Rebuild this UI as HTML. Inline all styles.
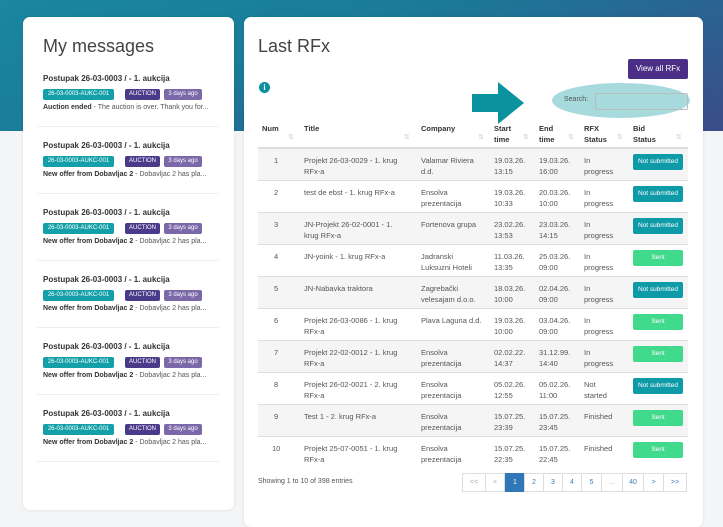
<!DOCTYPE html>
<html><head><meta charset="utf-8"><style>
*{margin:0;padding:0;box-sizing:border-box}
body{width:723px;height:521px;overflow:hidden;position:relative;font-family:"Liberation Sans",sans-serif;background:#f4f5f7;color:#333}
.band{position:absolute;left:0;top:0;width:723px;height:131px;background:linear-gradient(160deg,#1a86a0 0%,#1a7b98 40%,#2e5d90 75%,#3b4c88 100%)}
.card{position:absolute;background:#fff;border-radius:7px;box-shadow:0 0 3px rgba(0,0,0,.1)}
.a{position:absolute;white-space:nowrap}
.h1{font-size:18px;color:#444}
.mt{font-size:8px;font-weight:bold;color:#333}
.tag{position:absolute;height:11px;font-size:6px;color:#fff;line-height:11px;text-align:center;border-radius:2px}
.msg{font-size:7px;color:#555}
.sep{position:absolute;left:37px;width:182px;height:1px;background:#eee}
.row{position:absolute;left:258px;width:430px;height:32px;border-top:1px solid #ddd}
.c{position:absolute;font-size:7.5px;color:#555;line-height:11px;top:6px}
.th{position:absolute;font-size:7.5px;font-weight:bold;color:#333;line-height:11px}
.ar{position:absolute;font-size:7px;color:#ccc}
.b{position:absolute;left:375px;top:5px;width:50px;height:16px;border-radius:2px;font-size:6.5px;color:#fff;text-align:center;line-height:16px}
.ns{background:#0e9aa7}.s{background:#41d98c}
.pg{position:absolute;top:473px;height:19px;border:1px solid #ddd;font-size:7px;color:#3a7fc0;line-height:17px;text-align:center;background:#fff}
</style></head><body>
<div class="band"></div>
<div class="card" style="left:23px;top:17px;width:211px;height:493px"></div>
<div class="card" style="left:244px;top:17px;width:459px;height:510px"></div>
<div class="a h1" style="left:43px;top:36px">My messages</div>

<div class="a mt" style="left:43px;top:74px">Postupak 26-03-0003 / - 1. aukcija</div>
<div class="tag" style="left:43px;top:89px;width:71px;background:#14a0a8">26-03-0003-AUKC-001</div>
<div class="tag" style="left:125px;top:89px;width:35px;background:#4a3a8a">AUCTION</div>
<div class="tag" style="left:164px;top:89px;width:38px;background:#7a68a8">3 days ago</div>
<div class="a msg" style="left:43px;top:104px"><b style="color:#333">Auction ended</b> - The auction is over. Thank you for...</div>
<div class="sep" style="top:126px"></div>

<div class="a mt" style="left:43px;top:141px">Postupak 26-03-0003 / - 1. aukcija</div>
<div class="tag" style="left:43px;top:156px;width:71px;background:#14a0a8">26-03-0003-AUKC-001</div>
<div class="tag" style="left:125px;top:156px;width:35px;background:#4a3a8a">AUCTION</div>
<div class="tag" style="left:164px;top:156px;width:38px;background:#7a68a8">3 days ago</div>
<div class="a msg" style="left:43px;top:171px"><b style="color:#333">New offer from Dobavljac 2</b> - Dobavljac 2 has pla...</div>
<div class="sep" style="top:193px"></div>

<div class="a mt" style="left:43px;top:208px">Postupak 26-03-0003 / - 1. aukcija</div>
<div class="tag" style="left:43px;top:223px;width:71px;background:#14a0a8">26-03-0003-AUKC-001</div>
<div class="tag" style="left:125px;top:223px;width:35px;background:#4a3a8a">AUCTION</div>
<div class="tag" style="left:164px;top:223px;width:38px;background:#7a68a8">3 days ago</div>
<div class="a msg" style="left:43px;top:238px"><b style="color:#333">New offer from Dobavljac 2</b> - Dobavljac 2 has pla...</div>
<div class="sep" style="top:260px"></div>

<div class="a mt" style="left:43px;top:275px">Postupak 26-03-0003 / - 1. aukcija</div>
<div class="tag" style="left:43px;top:290px;width:71px;background:#14a0a8">26-03-0003-AUKC-001</div>
<div class="tag" style="left:125px;top:290px;width:35px;background:#4a3a8a">AUCTION</div>
<div class="tag" style="left:164px;top:290px;width:38px;background:#7a68a8">3 days ago</div>
<div class="a msg" style="left:43px;top:305px"><b style="color:#333">New offer from Dobavljac 2</b> - Dobavljac 2 has pla...</div>
<div class="sep" style="top:327px"></div>

<div class="a mt" style="left:43px;top:342px">Postupak 26-03-0003 / - 1. aukcija</div>
<div class="tag" style="left:43px;top:357px;width:71px;background:#14a0a8">26-03-0003-AUKC-001</div>
<div class="tag" style="left:125px;top:357px;width:35px;background:#4a3a8a">AUCTION</div>
<div class="tag" style="left:164px;top:357px;width:38px;background:#7a68a8">3 days ago</div>
<div class="a msg" style="left:43px;top:372px"><b style="color:#333">New offer from Dobavljac 2</b> - Dobavljac 2 has pla...</div>
<div class="sep" style="top:394px"></div>

<div class="a mt" style="left:43px;top:409px">Postupak 26-03-0003 / - 1. aukcija</div>
<div class="tag" style="left:43px;top:424px;width:71px;background:#14a0a8">26-03-0003-AUKC-001</div>
<div class="tag" style="left:125px;top:424px;width:35px;background:#4a3a8a">AUCTION</div>
<div class="tag" style="left:164px;top:424px;width:38px;background:#7a68a8">3 days ago</div>
<div class="a msg" style="left:43px;top:439px"><b style="color:#333">New offer from Dobavljac 2</b> - Dobavljac 2 has pla...</div>
<div class="sep" style="top:461px"></div>

<div class="a h1" style="left:258px;top:36px">Last RFx</div>
<div class="a" style="left:628px;top:59px;width:60px;height:20px;background:#4b2f86;border-radius:2px;color:#fff;font-size:8px;line-height:20px;text-align:center">View all RFx</div>
<div class="a" style="left:259px;top:82px;width:11px;height:11px;border-radius:50%;background:#0e8f9e;color:#fff;font-size:8px;font-weight:bold;line-height:11px;text-align:center">i</div>
<svg class="a" style="left:472px;top:82px" width="52" height="42"><polygon points="0,12 26,12 26,0 52,21 26,42 26,30 0,30" fill="#0b929f"/></svg>
<div class="a" style="left:552px;top:83px;width:138px;height:35px;border-radius:50%;background:#a6dadd"></div>
<div class="a" style="left:564px;top:96px;font-size:7px;color:#555">Search:</div>
<div class="a" style="left:595px;top:93px;width:93px;height:17px;border:1px solid #bbb;border-radius:2px"></div>

<div class="th" style="left:262px;top:123px">Num</div><div class="ar" style="left:288px;top:133px">⇅</div>
<div class="th" style="left:304px;top:123px">Title</div><div class="ar" style="left:404px;top:133px">⇅</div>
<div class="th" style="left:421px;top:123px">Company</div><div class="ar" style="left:478px;top:133px">⇅</div>
<div class="th" style="left:494px;top:123px">Start<br>time</div><div class="ar" style="left:523px;top:133px">⇅</div>
<div class="th" style="left:539px;top:123px">End<br>time</div><div class="ar" style="left:568px;top:133px">⇅</div>
<div class="th" style="left:584px;top:123px">RFX<br>Status</div><div class="ar" style="left:617px;top:133px">⇅</div>
<div class="th" style="left:633px;top:123px">Bid<br>Status</div><div class="ar" style="left:676px;top:133px">⇅</div>
<div class="a" style="left:258px;top:147px;width:430px;height:2px;background:#ddd"></div>

<div class="row" style="top:148px;background:#f5f5f5"><div class="c" style="left:16px">1</div><div class="c" style="left:46px">Projekt 26-03-0029 - 1. krug<br>RFx-a</div><div class="c" style="left:163px">Valamar Riviera<br>d.d.</div><div class="c" style="left:236px">19.03.26.<br>13:15</div><div class="c" style="left:281px">19.03.26.<br>16:00</div><div class="c" style="left:326px">In<br>progress</div><div class="b ns">Not submitted</div></div>
<div class="row" style="top:180px"><div class="c" style="left:16px">2</div><div class="c" style="left:46px">test de ebst - 1. krug RFx-a</div><div class="c" style="left:163px">Ensolva<br>prezentacija</div><div class="c" style="left:236px">19.03.26.<br>10:33</div><div class="c" style="left:281px">20.03.26.<br>10:00</div><div class="c" style="left:326px">In<br>progress</div><div class="b ns">Not submitted</div></div>
<div class="row" style="top:212px;background:#f5f5f5"><div class="c" style="left:16px">3</div><div class="c" style="left:46px">JN-Projekt 26-02-0001 - 1.<br>krug RFx-a</div><div class="c" style="left:163px">Fortenova grupa</div><div class="c" style="left:236px">23.02.26.<br>13:53</div><div class="c" style="left:281px">23.03.26.<br>14:15</div><div class="c" style="left:326px">In<br>progress</div><div class="b ns">Not submitted</div></div>
<div class="row" style="top:244px"><div class="c" style="left:16px">4</div><div class="c" style="left:46px">JN-yoink - 1. krug RFx-a</div><div class="c" style="left:163px">Jadranski<br>Luksuzni Hoteli</div><div class="c" style="left:236px">11.03.26.<br>13:35</div><div class="c" style="left:281px">25.03.26.<br>09:00</div><div class="c" style="left:326px">In<br>progress</div><div class="b s">Sent</div></div>
<div class="row" style="top:276px;background:#f5f5f5"><div class="c" style="left:16px">5</div><div class="c" style="left:46px">JN-Nabavka traktora</div><div class="c" style="left:163px">Zagrebački<br>velesajam d.o.o.</div><div class="c" style="left:236px">18.03.26.<br>10:00</div><div class="c" style="left:281px">02.04.26.<br>09:00</div><div class="c" style="left:326px">In<br>progress</div><div class="b ns">Not submitted</div></div>
<div class="row" style="top:308px"><div class="c" style="left:16px">6</div><div class="c" style="left:46px">Projekt 26-03-0086 - 1. krug<br>RFx-a</div><div class="c" style="left:163px">Plava Laguna d.d.</div><div class="c" style="left:236px">19.03.26.<br>10:00</div><div class="c" style="left:281px">03.04.26.<br>09:00</div><div class="c" style="left:326px">In<br>progress</div><div class="b s">Sent</div></div>
<div class="row" style="top:340px;background:#f5f5f5"><div class="c" style="left:16px">7</div><div class="c" style="left:46px">Projekt 22-02-0012 - 1. krug<br>RFx-a</div><div class="c" style="left:163px">Ensolva<br>prezentacija</div><div class="c" style="left:236px">02.02.22.<br>14:37</div><div class="c" style="left:281px">31.12.99.<br>14:40</div><div class="c" style="left:326px">In<br>progress</div><div class="b s">Sent</div></div>
<div class="row" style="top:372px"><div class="c" style="left:16px">8</div><div class="c" style="left:46px">Projekt 26-02-0021 - 2. krug<br>RFx-a</div><div class="c" style="left:163px">Ensolva<br>prezentacija</div><div class="c" style="left:236px">05.02.26.<br>12:55</div><div class="c" style="left:281px">05.02.26.<br>11:00</div><div class="c" style="left:326px">Not<br>started</div><div class="b ns">Not submitted</div></div>
<div class="row" style="top:404px;background:#f5f5f5"><div class="c" style="left:16px">9</div><div class="c" style="left:46px">Test 1 - 2. krug RFx-a</div><div class="c" style="left:163px">Ensolva<br>prezentacija</div><div class="c" style="left:236px">15.07.25.<br>23:39</div><div class="c" style="left:281px">15.07.25.<br>23:45</div><div class="c" style="left:326px">Finished</div><div class="b s">Sent</div></div>
<div class="row" style="top:436px"><div class="c" style="left:14px">10</div><div class="c" style="left:46px">Projekt 25-07-0051 - 1. krug<br>RFx-a</div><div class="c" style="left:163px">Ensolva<br>prezentacija</div><div class="c" style="left:236px">15.07.25.<br>22:35</div><div class="c" style="left:281px">15.07.25.<br>22:45</div><div class="c" style="left:326px">Finished</div><div class="b s">Sent</div></div>

<div class="a" style="left:258px;top:478px;font-size:7px;color:#555">Showing 1 to 10 of 398 entries</div>
<div class="pg" style="left:462px;width:24px;color:#aaa">&lt;&lt;</div>
<div class="pg" style="left:485px;width:20px;color:#aaa">&lt;</div>
<div class="pg" style="left:505px;width:20px;background:#2f77b6;color:#fff;border-color:#2f77b6">1</div>
<div class="pg" style="left:524px;width:20px">2</div>
<div class="pg" style="left:543px;width:20px">3</div>
<div class="pg" style="left:562px;width:20px">4</div>
<div class="pg" style="left:581px;width:21px">5</div>
<div class="pg" style="left:601px;width:22px;color:#aaa">...</div>
<div class="pg" style="left:622px;width:22px">40</div>
<div class="pg" style="left:643px;width:21px">&gt;</div>
<div class="pg" style="left:663px;width:24px">&gt;&gt;</div>
</body></html>
